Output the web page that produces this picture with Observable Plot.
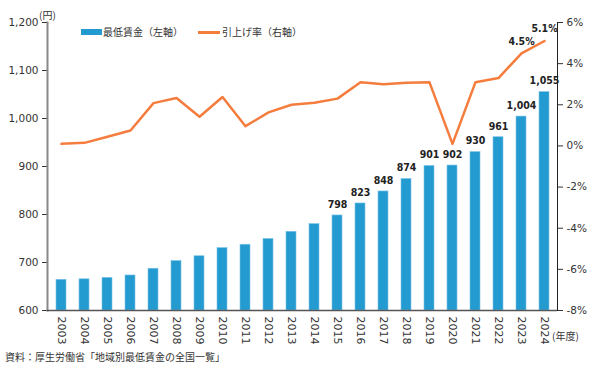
<!DOCTYPE html>
<html><head><meta charset="utf-8">
<script src="https://cdn.jsdelivr.net/npm/d3@7"></script>
<script src="https://cdn.jsdelivr.net/npm/@observablehq/plot@0.6"></script>
<style>
body{margin:0;background:#fff;font-family:"DejaVu Sans","Noto Sans CJK JP",sans-serif;}
#wrap{position:relative;width:610px;height:372px;}
.leg{position:absolute;font-family:"Noto Sans CJK JP",sans-serif;font-size:10px;color:#333;}
</style></head>
<body><div id="wrap"></div>
<script>
const years = ["2003","2004","2005","2006","2007","2008","2009","2010","2011","2012","2013","2014","2015","2016","2017","2018","2019","2020","2021","2022","2023","2024"];
const wages = [664,665,668,673,687,703,713,730,737,749,764,780,798,823,848,874,901,902,930,961,1004,1055];
const rates = [0.1,0.15,0.45,0.75,2.08,2.33,1.42,2.38,0.96,1.63,2.0,2.1,2.3,3.1,3.0,3.07,3.09,0.1,3.1,3.3,4.5,5.1];
const yenTicks = [600,700,800,900,1000,1100,1200];
const rateTicks = [-8,-6,-4,-2,0,2,4,6];
const wageLabelFrom = "2015";
const rateLabelYears = ["2023","2024"];

const toYen = r => 600 + (r + 8) / 14 * 600;
const fromYen = v => (v - 600) / 600 * 14 - 8;
const data = years.map((y,i)=>({year:y, wage:wages[i], rate:rates[i], ry:toYen(rates[i])}));
const blue = "#239bd1", orange = "#f47d3e";
const labFont = "DejaVu Sans Condensed, DejaVu Sans, sans-serif";

const chart = Plot.plot({
  width:610, height:345,
  marginLeft:47, marginRight:53, marginTop:22, marginBottom:35,
  style:{fontFamily:"DejaVu Sans, sans-serif", fontSize:"10.5px", color:"#333"},
  x:{domain:years, paddingInner:0.57, paddingOuter:0.3, label:null},
  y:{domain:[600,1200], label:null},
  marks:[
    Plot.barY(data,{x:"year", y1:600, y2:"wage", fill:blue, stroke:"#7cc3e6", strokeWidth:0.6}),
    Plot.line(data,{x:"year", y:"ry", stroke:orange, strokeWidth:2.5}),
    Plot.text(data.filter(d=>d.year>=wageLabelFrom),{x:"year", y:"wage", text:d=>d3.format(",")(d.wage), dy:-11, fontWeight:"bold", fontSize:10.5, fontFamily:labFont, fill:"#222"}),
    Plot.text(data.filter(d=>rateLabelYears.includes(d.year)),{x:"year", y:"ry", text:d=>d.rate.toFixed(1)+"%", dy:-12, fontWeight:"bold", fontSize:10.5, fontFamily:labFont, fill:"#222"}),
    Plot.axisY({ticks:yenTicks, tickFormat:d3.format(","), tickSize:5, label:null}),
    Plot.frame({anchor:"left", stroke:"#888", strokeWidth:2}),
    Plot.axisY({anchor:"right", ticks:rateTicks.map(toYen), tickFormat:v=>Math.round(fromYen(v))+"%", tickSize:5, label:null}),
    Plot.frame({anchor:"right", stroke:"#222", strokeWidth:1}),
    Plot.axisX({tickRotate:90, tickSize:0, tickPadding:6, label:null, fontSize:11}),
    Plot.ruleY([600],{stroke:"#555", strokeWidth:1.5})
  ]
});
const wrap = document.getElementById("wrap");
wrap.appendChild(chart);
function add(html, css){const d=document.createElement("div");d.className="leg";d.innerHTML=html;Object.assign(d.style,css);wrap.appendChild(d);}
add("(円)",{left:"39px",top:"7px",fontSize:"10px"});
add("",{left:"81px",top:"29px",width:"21px",height:"6px",background:blue});
add("最低賃金（左軸）",{left:"103px",top:"24px"});
add("",{left:"198px",top:"31px",width:"22px",height:"2.5px",background:orange});
add("引上げ率（右軸）",{left:"222px",top:"24px"});
add("(年度)",{left:"552px",top:"328px"});
add("資料：厚生労働省「地域別最低賃金の全国一覧」",{left:"5px",top:"349px"});
</script></body></html>
